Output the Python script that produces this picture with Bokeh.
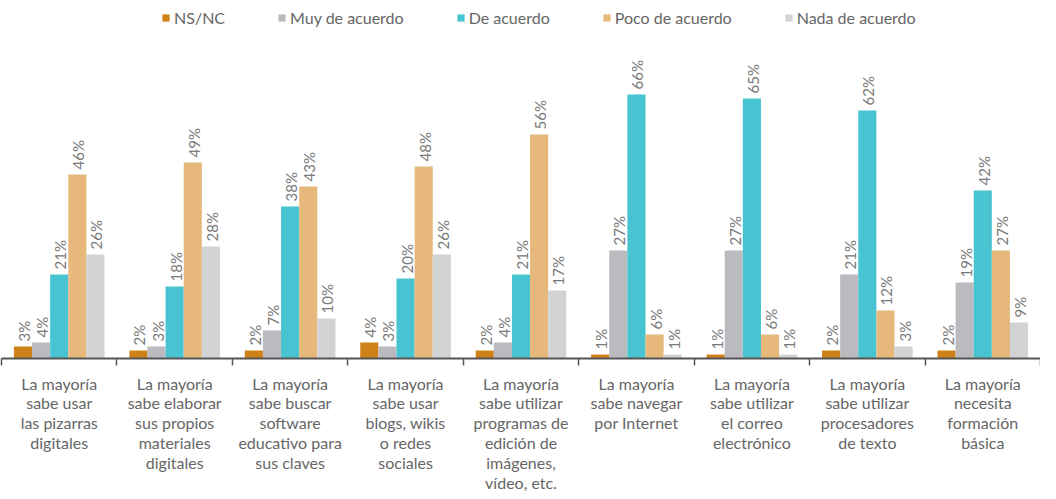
import numpy as np
from bokeh.plotting import figure
from bokeh.models import Range1d, FixedTicker, ColumnDataSource, Legend, LegendItem
from bokeh.transform import dodge
from bokeh.core.properties import value
from bokeh.embed import file_html
from bokeh.resources import INLINE

categories = [
    "La mayoría\nsabe usar\nlas pizarras\ndigitales",
    "La mayoría\nsabe elaborar\nsus propios\nmateriales\ndigitales",
    "La mayoría\nsabe buscar\nsoftware\neducativo para\nsus claves",
    "La mayoría\nsabe usar\nblogs, wikis\no redes\nsociales",
    "La mayoría\nsabe utilizar\nprogramas de\nedición de\nimágenes,\nvídeo, etc.",
    "La mayoría\nsabe navegar\npor Internet",
    "La mayoría\nsabe utilizar\nel correo\nelectrónico",
    "La mayoría\nsabe utilizar\nprocesadores\nde texto",
    "La mayoría\nnecesita\nformación\nbásica",
]
series = ["NS/NC", "Muy de acuerdo", "De acuerdo", "Poco de acuerdo", "Nada de acuerdo"]
ns_nc = [3, 2, 2, 4, 2, 1, 1, 2, 2]
muy_de_acuerdo = [4, 3, 7, 3, 4, 27, 27, 21, 19]
de_acuerdo = [21, 18, 38, 20, 21, 66, 65, 62, 42]
poco_de_acuerdo = [46, 49, 43, 48, 56, 6, 6, 12, 27]
nada_de_acuerdo = [26, 28, 10, 26, 17, 1, 1, 3, 9]
colors = ["#CF8217", "#BBBBBF", "#48C3D1", "#E7B87C", "#D2D3D5"]

values_list = [ns_nc, muy_de_acuerdo, de_acuerdo, poco_de_acuerdo, nada_de_acuerdo]

FONT = "Lato"
n = len(categories)
centers = [i + 0.5 for i in range(n)]
FH = 358

p = figure(frame_width=1039, frame_height=FH, output_backend="svg", toolbar_location=None,
           x_range=Range1d(0, n), y_range=Range1d(0, FH / 4.0),
           min_border_left=1, min_border_right=0, min_border_top=0, min_border_bottom=0)
p.outline_line_color = None
p.xgrid.visible = False
p.ygrid.visible = False
p.yaxis.visible = False

bw = 0.157
offsets = [-2 * bw, -bw, 0, bw, 2 * bw]
items = []
for name, vals, col, off in zip(series, values_list, colors, offsets):
    src = ColumnDataSource(dict(x=centers, top=vals, lab=[f"{v}%" for v in vals]))
    r = p.vbar(x=dodge("x", off, range=p.x_range), top="top", width=bw, source=src,
               fill_color=col, line_color=None)
    p.text(x=dodge("x", off, range=p.x_range), y="top", text="lab", source=src,
           angle=np.pi / 2, text_align="left", text_baseline="middle",
           x_offset=1, y_offset=-5, text_font=value(FONT), text_font_size="15px",
           text_color="#7a7a7a")
    items.append(LegendItem(label=name, renderers=[r]))

legend = Legend(items=items, orientation="horizontal", location=(160, FH - 27),
                border_line_color=None, background_fill_alpha=0,
                label_text_font=FONT, label_text_font_size="16px", label_text_color="#666666",
                glyph_width=9, glyph_height=9, spacing=52, label_standoff=4,
                padding=0, margin=0)
p.add_layout(legend, "center")

ax = p.xaxis[0]
ax.ticker = FixedTicker(ticks=centers, minor_ticks=list(range(n + 1)))
ax.major_label_overrides = {c: lab for c, lab in zip(centers, categories)}
ax.major_tick_line_color = None
ax.minor_tick_out = 7
ax.minor_tick_in = 0
ax.minor_tick_line_color = "#555555"
ax.minor_tick_line_width = 1.5
ax.axis_line_color = "#555555"
ax.axis_line_width = 2
ax.major_label_standoff = 8
ax.major_label_text_font = FONT
ax.major_label_text_font_size = "16px"
ax.major_label_text_line_height = 1.05
ax.major_label_text_color = "#666666"

open("out.html", "w").write(file_html(p, INLINE))
